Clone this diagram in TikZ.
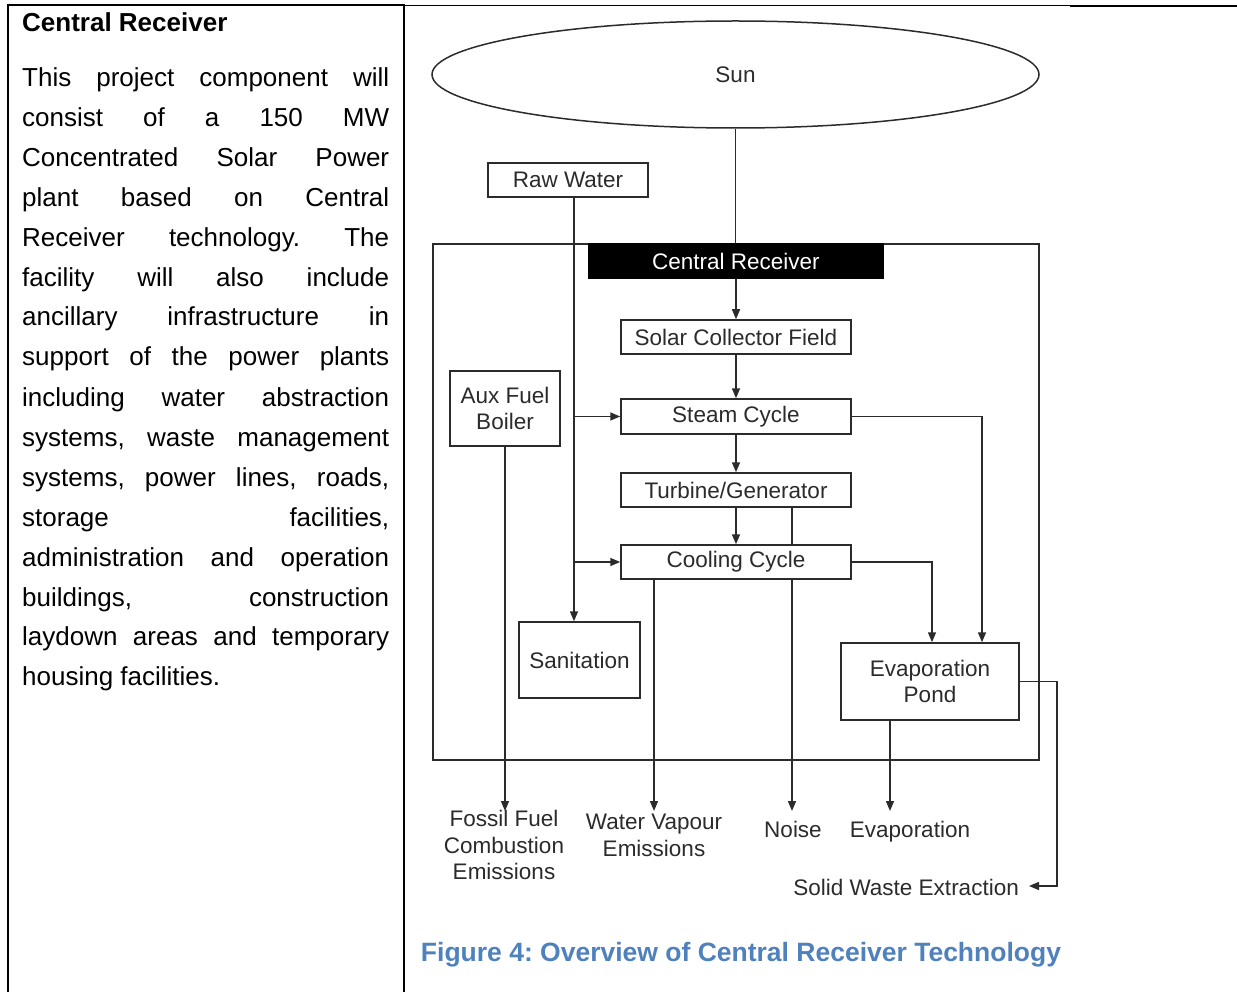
\documentclass[tikz,border=0pt]{standalone}
\usepackage{fontspec}
\setmainfont{Liberation Sans}
\usetikzlibrary{arrows.meta,shapes.geometric}
\definecolor{capblue}{HTML}{4F81BD}
\definecolor{ink}{HTML}{2B2B2B}
\frenchspacing
\newcommand\jl[3]{\node[anchor=base west, inner sep=0pt, font=\fontsize{26}{30}\selectfont] (#1) at (22,#2) {\makebox[367pt][s]{#3}};}
\begin{document}
\begin{tikzpicture}[x=1pt,y=-1pt,
  ln/.style={draw=ink, line width=1.5pt},
  arr/.style={ln, -{Triangle[length=10pt,width=8pt]}},
  box/.style={draw=ink, line width=1.5pt, fill=white, inner sep=0pt, text=ink,
    font=\fontsize{22.5}{26.5}\selectfont, align=center},
  lbl/.style={inner sep=0pt, text=ink, font=\fontsize{22.5}{26.5}\selectfont, align=center},
  tbl/.style={line width=2pt, black}]
\useasboundingbox (0,0) rectangle (1237,992);

% table borders
\draw[tbl] (7,5) -- (404,5);
\draw[tbl] (8,4) -- (8,992);
\draw[tbl] (404,4) -- (404,992);
\draw[black, line width=1pt] (404,6) -- (1070,6);
\draw[tbl] (1070,6) -- (1237,6);

% left text
\node[anchor=base west, inner sep=0pt, font=\fontsize{26}{30}\selectfont\bfseries] (head) at (22,32) {Central Receiver};
\jl{p1}{87}{This project component will}
\jl{p2}{127}{consist of a 150 MW}
\jl{p3}{167}{Concentrated Solar Power}
\jl{p4}{207}{plant based on Central}
\jl{p5}{247}{Receiver technology. The}
\jl{p6}{287}{facility will also include}
\jl{p7}{326}{ancillary infrastructure in}
\jl{p8}{366}{support of the power plants}
\jl{p9}{406}{including water abstraction}
\jl{p10}{446}{systems, waste management}
\jl{p11}{486}{systems, power lines, roads,}
\jl{p12}{526}{storage facilities,}
\jl{p13}{566}{administration and operation}
\jl{p14}{606}{buildings, construction}
\jl{p15}{645}{laydown areas and temporary}
\node[anchor=base west, inner sep=0pt, font=\fontsize{26}{30}\selectfont] (p16) at (22,685) {housing facilities.};

% diagram
\node[draw=ink, line width=1.5pt, ellipse, minimum width=607pt, minimum height=107pt, inner sep=0pt,
  text=ink, font=\fontsize{22.5}{26.5}\selectfont] (sun) at (735.5,74.5) {Sun};
\node[draw=ink, line width=1.5pt, minimum width=606pt, minimum height=516pt, inner sep=0pt] (sys) at (736,502) {};

\node[box, minimum width=160pt, minimum height=34pt] (raw) at (568,180) {Raw Water};
\node[box, fill=black, draw=black, text=white, minimum width=294pt, minimum height=34pt] (cr) at (736,261) {Central Receiver};
\node[box, minimum width=230pt, minimum height=34pt] (scf) at (736,337) {Solar Collector Field};
\node[box, minimum width=230pt, minimum height=35pt] (steam) at (736,416.5) {Steam Cycle};
\node[box, minimum width=230pt, minimum height=34pt] (turb) at (736,490) {Turbine/Generator};
\node[box, minimum width=230pt, minimum height=34pt] (cool) at (736,562) {Cooling Cycle};
\node[box, minimum width=110pt, minimum height=75pt] (aux) at (505,408.5) {Aux Fuel\\Boiler};
\node[box, minimum width=121pt, minimum height=76pt] (san) at (579.5,660) {Sanitation};
\node[box, minimum width=178pt, minimum height=77pt] (pond) at (930,681.5) {Evaporation\\Pond};

\node[lbl] (fossil) at (504,845) {Fossil Fuel\\Combustion\\Emissions};
\node[lbl] (vapour) at (654,835.5) {Water Vapour\\Emissions};
\node[lbl, anchor=base] (noise) at (793,837) {Noise};
\node[lbl, anchor=base] (evap) at (910,837) {Evaporation};
\node[lbl, anchor=base east] (sw) at (1019,895) {Solid Waste Extraction};

\coordinate (tip) at (0,811);
\coordinate (rw) at (574,197);
\coordinate (cx1) at (932,0);
\coordinate (cx2) at (982,0);
\coordinate (nx) at (792,0);
\coordinate (vx) at (654,0);
\coordinate (ex) at (890,0);
\coordinate (swc) at (1057,886);

\draw[ln] (sun.south) -- (sun.south |- cr.north);
\draw[arr] (cr.south) -- (scf.north);
\draw[arr] (scf.south) -- (steam.north);
\draw[arr] (steam.south) -- (turb.north);
\draw[arr] (turb.south) -- (cool.north);
\draw[ln] (nx |- turb.south) -- (nx |- cool.north);
\draw[arr] (nx |- cool.south) -- (nx |- tip);
\draw[arr] (vx |- cool.south) -- (vx |- tip);
\draw[arr] (aux.south) -- (aux.south |- tip);
\draw[arr] (rw) -- (rw |- san.north);
\draw[arr] (rw |- steam.west) -- (steam.west);
\draw[arr] (rw |- cool.west) -- (cool.west);
\draw[arr] (steam.east) -| (cx2 |- pond.north);
\draw[arr] (cool.east) -| (cx1 |- pond.north);
\draw[arr] (ex |- pond.south) -- (ex |- tip);
\draw[arr] (pond.east) -| (swc) -- ([xshift=10pt]swc -| sw.east);

% caption
\node[inner sep=0pt, text=capblue, font=\fontsize{26.5}{30}\selectfont\bfseries] (cap) at (741,955) {Figure 4: Overview of Central Receiver Technology};
\end{tikzpicture}
\end{document}
